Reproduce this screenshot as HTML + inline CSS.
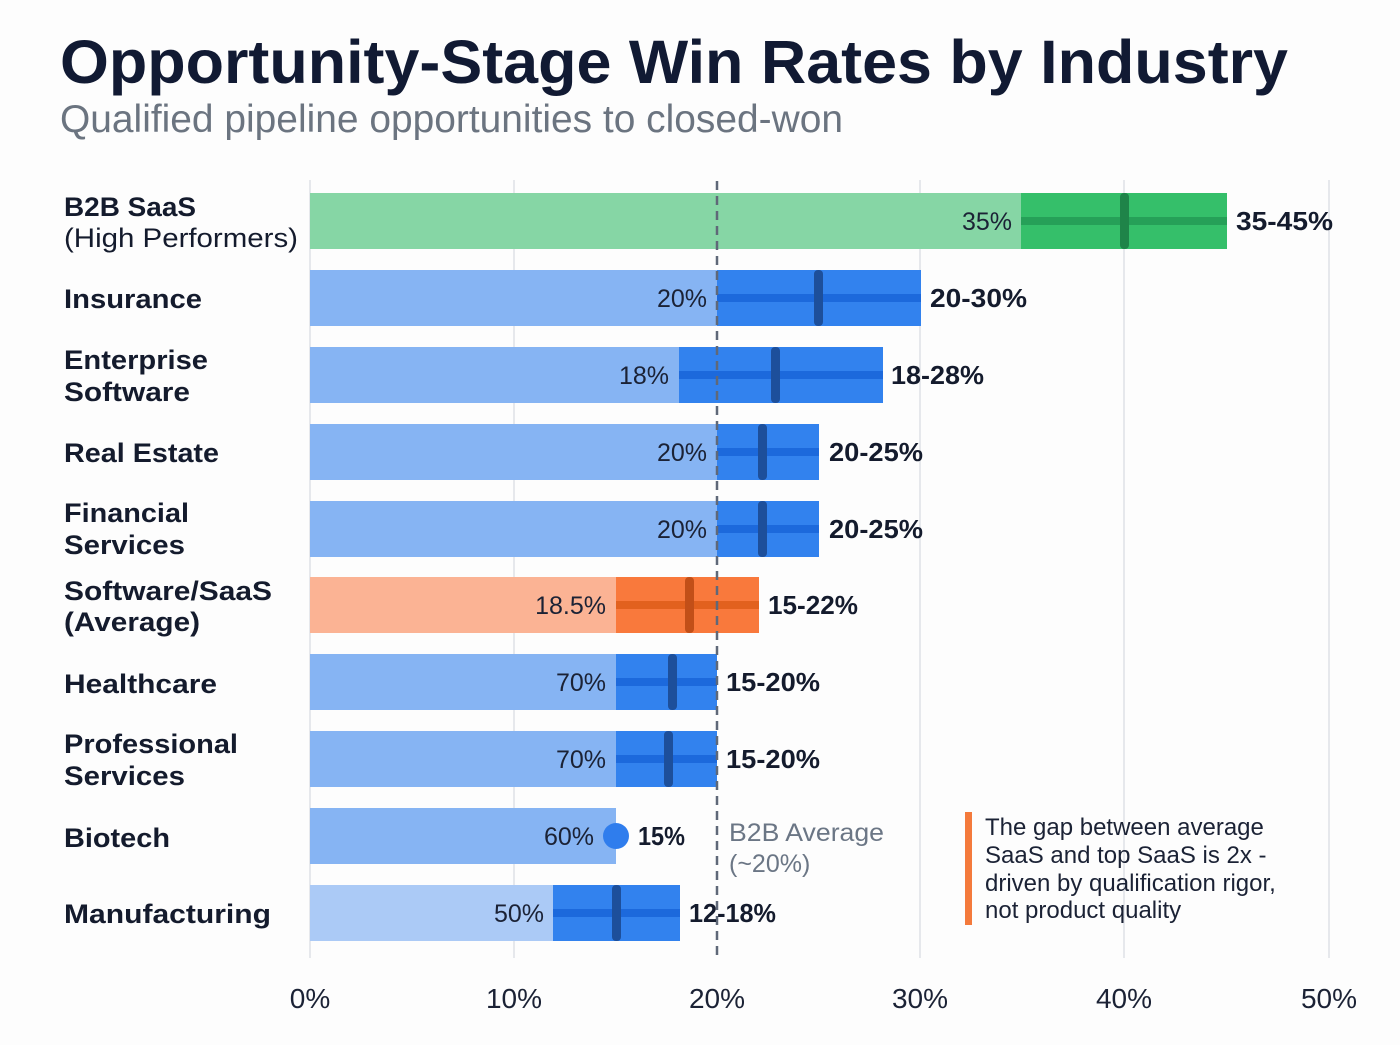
<!DOCTYPE html>
<html>
<head>
<meta charset="utf-8">
<style>
  html,body{margin:0;padding:0;background:#fdfdfd;}
  svg{display:block;}
  .lbl{font-family:"Liberation Sans",sans-serif;font-weight:700;font-size:27px;fill:#141b2d;}
  .lblr{font-family:"Liberation Sans",sans-serif;font-weight:400;font-size:27px;fill:#141b2d;}
  .val{font-family:"Liberation Sans",sans-serif;font-weight:400;font-size:25px;fill:#1b2235;}
  .rng{font-family:"Liberation Sans",sans-serif;font-weight:700;font-size:26px;fill:#141b2d;}
  .ax{font-family:"Liberation Sans",sans-serif;font-weight:400;font-size:28px;fill:#1b2235;}
</style>
</head>
<body>
<svg width="1400" height="1045" viewBox="0 0 1400 1045" xmlns="http://www.w3.org/2000/svg">
  <rect x="0" y="0" width="1400" height="1045" fill="#fdfdfd"/>

  <!-- Title -->
  <text x="60" y="83" font-family="Liberation Sans, sans-serif" font-weight="700" font-size="61" fill="#111a33" textLength="1228" lengthAdjust="spacingAndGlyphs">Opportunity-Stage Win Rates by Industry</text>
  <text x="60" y="132" font-family="Liberation Sans, sans-serif" font-weight="400" font-size="39" fill="#6b7480" textLength="783" lengthAdjust="spacingAndGlyphs">Qualified pipeline opportunities to closed-won</text>

  <!-- gridlines -->
  <g stroke="#dfe2e7" stroke-width="1.5">
    <line x1="310" y1="180" x2="310" y2="958"/>
    <line x1="514" y1="180" x2="514" y2="958"/>
    <line x1="920" y1="180" x2="920" y2="958"/>
    <line x1="1124" y1="180" x2="1124" y2="958"/>
    <line x1="1329" y1="180" x2="1329" y2="958"/>
  </g>

  <!-- Row 1: B2B SaaS (green) center 221 -->
  <rect x="310" y="193" width="711" height="56" fill="#86d6a5"/>
  <rect x="1021" y="193" width="206" height="56" fill="#35bf6a"/>
  <rect x="1021" y="217" width="206" height="8" fill="#26a058"/>
  <rect x="1120" y="193" width="9" height="56" rx="4" fill="#1f8449"/>

  <!-- Row 2: Insurance center 298 -->
  <rect x="310" y="270" width="407" height="56" fill="#86b4f3"/>
  <rect x="717" y="270" width="204" height="56" fill="#3282ee"/>
  <rect x="717" y="294" width="204" height="8" fill="#1c69dc"/>
  <rect x="814" y="270" width="9" height="56" rx="4" fill="#1d4f9b"/>

  <!-- Row 3: Enterprise Software center 375 -->
  <rect x="310" y="347" width="369" height="56" fill="#86b4f3"/>
  <rect x="679" y="347" width="204" height="56" fill="#3282ee"/>
  <rect x="679" y="371" width="204" height="8" fill="#1c69dc"/>
  <rect x="771" y="347" width="9" height="56" rx="4" fill="#1d4f9b"/>

  <!-- Row 4: Real Estate center 452 -->
  <rect x="310" y="424" width="407" height="56" fill="#86b4f3"/>
  <rect x="717" y="424" width="102" height="56" fill="#3282ee"/>
  <rect x="717" y="448" width="102" height="8" fill="#1c69dc"/>
  <rect x="758" y="424" width="9" height="56" rx="4" fill="#1d4f9b"/>

  <!-- Row 5: Financial Services center 529 -->
  <rect x="310" y="501" width="407" height="56" fill="#86b4f3"/>
  <rect x="717" y="501" width="102" height="56" fill="#3282ee"/>
  <rect x="717" y="525" width="102" height="8" fill="#1c69dc"/>
  <rect x="758" y="501" width="9" height="56" rx="4" fill="#1d4f9b"/>

  <!-- Row 6: Software/SaaS Average (orange) center 605 -->
  <rect x="310" y="577" width="306" height="56" fill="#fbb394"/>
  <rect x="616" y="577" width="143" height="56" fill="#f9793c"/>
  <rect x="616" y="601" width="143" height="8" fill="#e2611e"/>
  <rect x="685" y="577" width="9" height="56" rx="4" fill="#c24f18"/>

  <!-- Row 7: Healthcare center 682 -->
  <rect x="310" y="654" width="306" height="56" fill="#86b4f3"/>
  <rect x="616" y="654" width="101" height="56" fill="#3282ee"/>
  <rect x="616" y="678" width="101" height="8" fill="#1c69dc"/>
  <rect x="668" y="654" width="9" height="56" rx="4" fill="#1d4f9b"/>

  <!-- Row 8: Professional Services center 759 -->
  <rect x="310" y="731" width="306" height="56" fill="#86b4f3"/>
  <rect x="616" y="731" width="101" height="56" fill="#3282ee"/>
  <rect x="616" y="755" width="101" height="8" fill="#1c69dc"/>
  <rect x="664" y="731" width="9" height="56" rx="4" fill="#1d4f9b"/>

  <!-- Row 9: Biotech center 836 -->
  <rect x="310" y="808" width="306" height="56" fill="#86b4f3"/>
  <circle cx="616" cy="836" r="13" fill="#2f7ded"/>

  <!-- Row 10: Manufacturing center 913 -->
  <rect x="310" y="885" width="243" height="56" fill="#abcaf6"/>
  <rect x="553" y="885" width="127" height="56" fill="#3282ee"/>
  <rect x="553" y="909" width="127" height="8" fill="#1c69dc"/>
  <rect x="612" y="885" width="9" height="56" rx="4" fill="#1d4f9b"/>

  <!-- dashed average line -->
  <line x1="717" y1="181" x2="717" y2="959" stroke="#5f6878" stroke-width="2.5" stroke-dasharray="9,6"/>

  <!-- value labels -->
  <text class="val" x="1012" y="230" text-anchor="end">35%</text>
  <text class="val" x="707" y="307" text-anchor="end">20%</text>
  <text class="val" x="669" y="384" text-anchor="end">18%</text>
  <text class="val" x="707" y="461" text-anchor="end">20%</text>
  <text class="val" x="707" y="538" text-anchor="end">20%</text>
  <text class="val" x="606" y="614" text-anchor="end">18.5%</text>
  <text class="val" x="606" y="691" text-anchor="end">70%</text>
  <text class="val" x="606" y="768" text-anchor="end">70%</text>
  <text class="val" x="594" y="845" text-anchor="end">60%</text>
  <text class="val" x="544" y="922" text-anchor="end">50%</text>

  <!-- range labels -->
  <text class="rng" x="1236" y="230" textLength="97" lengthAdjust="spacingAndGlyphs">35-45%</text>
  <text class="rng" x="930" y="307" textLength="97" lengthAdjust="spacingAndGlyphs">20-30%</text>
  <text class="rng" x="891" y="384" textLength="93" lengthAdjust="spacingAndGlyphs">18-28%</text>
  <text class="rng" x="829" y="461" textLength="94" lengthAdjust="spacingAndGlyphs">20-25%</text>
  <text class="rng" x="829" y="538" textLength="94" lengthAdjust="spacingAndGlyphs">20-25%</text>
  <text class="rng" x="768" y="614" textLength="90" lengthAdjust="spacingAndGlyphs">15-22%</text>
  <text class="rng" x="726" y="691" textLength="94" lengthAdjust="spacingAndGlyphs">15-20%</text>
  <text class="rng" x="726" y="768" textLength="94" lengthAdjust="spacingAndGlyphs">15-20%</text>
  <text class="rng" x="638" y="845" textLength="47" lengthAdjust="spacingAndGlyphs">15%</text>
  <text class="rng" x="689" y="922" textLength="87" lengthAdjust="spacingAndGlyphs">12-18%</text>

  <!-- row labels -->
  <text class="lbl" x="64" y="216" textLength="132" lengthAdjust="spacingAndGlyphs">B2B SaaS</text>
  <text class="lblr" x="64" y="247" textLength="234" lengthAdjust="spacingAndGlyphs">(High Performers)</text>
  <text class="lbl" x="64" y="308" textLength="138" lengthAdjust="spacingAndGlyphs">Insurance</text>
  <text class="lbl" x="64" y="369" textLength="144" lengthAdjust="spacingAndGlyphs">Enterprise</text>
  <text class="lbl" x="64" y="401" textLength="126" lengthAdjust="spacingAndGlyphs">Software</text>
  <text class="lbl" x="64" y="462" textLength="155" lengthAdjust="spacingAndGlyphs">Real Estate</text>
  <text class="lbl" x="64" y="522" textLength="125" lengthAdjust="spacingAndGlyphs">Financial</text>
  <text class="lbl" x="64" y="554" textLength="121" lengthAdjust="spacingAndGlyphs">Services</text>
  <text class="lbl" x="64" y="600" textLength="208" lengthAdjust="spacingAndGlyphs">Software/SaaS</text>
  <text class="lbl" x="64" y="631" textLength="136" lengthAdjust="spacingAndGlyphs">(Average)</text>
  <text class="lbl" x="64" y="693" textLength="153" lengthAdjust="spacingAndGlyphs">Healthcare</text>
  <text class="lbl" x="64" y="753" textLength="174" lengthAdjust="spacingAndGlyphs">Professional</text>
  <text class="lbl" x="64" y="785" textLength="121" lengthAdjust="spacingAndGlyphs">Services</text>
  <text class="lbl" x="64" y="847" textLength="106" lengthAdjust="spacingAndGlyphs">Biotech</text>
  <text class="lbl" x="64" y="923" textLength="207" lengthAdjust="spacingAndGlyphs">Manufacturing</text>

  <!-- B2B average annotation -->
  <text x="729" y="841" font-family="Liberation Sans, sans-serif" font-size="25" fill="#6b7685" textLength="155" lengthAdjust="spacingAndGlyphs">B2B Average</text>
  <text x="729" y="872" font-family="Liberation Sans, sans-serif" font-size="25" fill="#6b7685">(~20%)</text>

  <!-- callout -->
  <rect x="965" y="812" width="7" height="113" fill="#f47a3c"/>
  <g font-family="Liberation Sans, sans-serif" font-size="24" fill="#1b2235">
    <text x="985" y="835">The gap between average</text>
    <text x="985" y="863">SaaS and top SaaS is 2x -</text>
    <text x="985" y="891">driven by qualification rigor,</text>
    <text x="985" y="918">not product quality</text>
  </g>

  <!-- axis labels -->
  <text class="ax" x="310" y="1008" text-anchor="middle">0%</text>
  <text class="ax" x="514" y="1008" text-anchor="middle">10%</text>
  <text class="ax" x="717" y="1008" text-anchor="middle">20%</text>
  <text class="ax" x="920" y="1008" text-anchor="middle">30%</text>
  <text class="ax" x="1124" y="1008" text-anchor="middle">40%</text>
  <text class="ax" x="1329" y="1008" text-anchor="middle">50%</text>
</svg>
</body>
</html>
